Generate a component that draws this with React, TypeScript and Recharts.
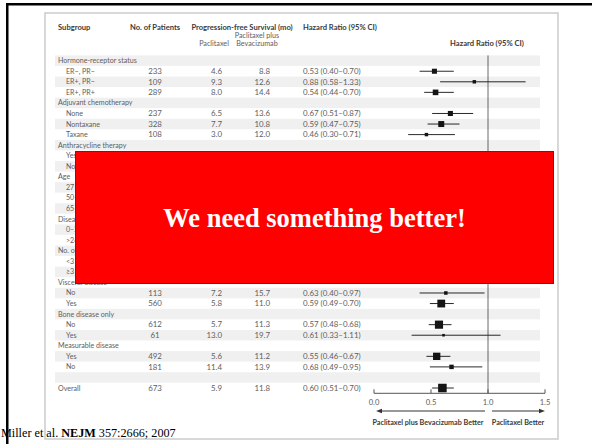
import React from "react";
import { ScatterChart, Scatter, XAxis, YAxis, ErrorBar, ReferenceLine } from "recharts";

// Subgroup rows, top to bottom (row index = position in the table)
const subgroups = [
  "Hormone-receptor status", "ER−, PR−", "ER+, PR−", "ER+, PR+",
  "Adjuvant chemotherapy", "None", "Nontaxane", "Taxane",
  "Anthracycline therapy", "Yes", "No",
  "Age", "27–49 yr", "50–64 yr", "65–85 yr",
  "Disease-free interval", "0–24 mo", ">24 mo",
  "No. of sites", "<3", "≥3",
  "Visceral disease", "No", "Yes",
  "Bone disease only", "No", "Yes",
  "Measurable disease", "Yes", "No",
  "", "Overall",
];
const groupTitleRows = [0, 4, 8, 11, 15, 18, 21, 24, 27, 31];

const patients = [
  null, 233, 109, 289, null, 237, 328, 108, null, null, null, null, null, null, null, null,
  null, null, null, null, null, null, 113, 560, null, 612, 61, null, 492, 181, null, 673,
];
const pfsPaclitaxel = [
  null, 4.6, 9.3, 8.0, null, 6.5, 7.7, 3.0, null, null, null, null, null, null, null, null,
  null, null, null, null, null, null, 7.2, 5.8, null, 5.7, 13.0, null, 5.6, 11.4, null, 5.9,
];
const pfsCombination = [
  null, 8.8, 12.6, 14.4, null, 13.6, 10.8, 12.0, null, null, null, null, null, null, null, null,
  null, null, null, null, null, null, 15.7, 11.0, null, 11.3, 19.7, null, 11.2, 13.9, null, 11.8,
];
const hazardRatio = [
  null, 0.53, 0.88, 0.54, null, 0.67, 0.59, 0.46, null, null, null, null, null, null, null, null,
  null, null, null, null, null, null, 0.63, 0.59, null, 0.57, 0.61, null, 0.55, 0.68, null, 0.60,
];
const ciLower = [
  null, 0.40, 0.58, 0.44, null, 0.51, 0.47, 0.30, null, null, null, null, null, null, null, null,
  null, null, null, null, null, null, 0.40, 0.49, null, 0.48, 0.33, null, 0.46, 0.49, null, 0.51,
];
const ciUpper = [
  null, 0.70, 1.33, 0.70, null, 0.87, 0.75, 0.71, null, null, null, null, null, null, null, null,
  null, null, null, null, null, null, 0.97, 0.70, null, 0.68, 1.11, null, 0.67, 0.95, null, 0.70,
];
const hrTicks = [0, 0.5, 1.0, 1.5];

const rowTicks = subgroups.map((_, i) => i);

const points = subgroups
  .map((_, i) => ({
    row: i,
    hr: hazardRatio[i],
    n: patients[i],
    err: hazardRatio[i] == null ? null : [hazardRatio[i]! - ciLower[i]!, ciUpper[i]! - hazardRatio[i]!],
  }))
  .filter((p) => p.hr != null);

const TABLE_FONT = "Lato, 'Liberation Sans', sans-serif";
const BODY = "#5e5e5e";
const HEAD = "#3a3a3a";
const ROW_H = 10.56;

const fmtCI = (i: number) =>
  `${hazardRatio[i]!.toFixed(2)} (${ciLower[i]!.toFixed(2)}–${ciUpper[i]!.toFixed(2)})`;

function RowTick(props: any) {
  const { y, payload } = props;
  const i = payload.value as number;
  const title = groupTitleRows.includes(i);
  return (
    <g fontFamily={TABLE_FONT} fill={BODY}>
      {i % 2 === 0 && (
        <rect x={55} y={y - ROW_H / 2} width={485} height={ROW_H} fill="rgba(0,0,0,0.06)" />
      )}
      <text x={title ? 58 : 66} y={y} dy="0.35em" fontSize={7.1} fill={BODY}>{subgroups[i]}</text>
      <g fontSize={7.9}>
        {patients[i] != null && (
          <text x={155} y={y} dy="0.35em" textAnchor="middle" fill={BODY}>{patients[i]}</text>
        )}
        {pfsPaclitaxel[i] != null && (
          <text x={222} y={y} dy="0.35em" textAnchor="end" fill={BODY}>{pfsPaclitaxel[i]!.toFixed(1)}</text>
        )}
        {pfsCombination[i] != null && (
          <text x={270} y={y} dy="0.35em" textAnchor="end" fill={BODY}>{pfsCombination[i]!.toFixed(1)}</text>
        )}
        {hazardRatio[i] != null && (
          <text x={303} y={y} dy="0.35em" fill={BODY}>{fmtCI(i)}</text>
        )}
      </g>
    </g>
  );
}

function HrTick(props: any) {
  const { x, y, payload } = props;
  return (
    <g>
      <line x1={x} x2={x} y1={y} y2={y - 4} stroke="#555" strokeWidth={1} />
      <text x={x} y={y + 9} dy="0.35em" textAnchor="middle" fontFamily={TABLE_FONT} fontSize={7.6} fill={BODY}>
        {Number(payload.value).toFixed(1)}
      </text>
    </g>
  );
}

function SquareMarker(props: any) {
  const { cx, cy, payload } = props;
  const s = 0.33 * Math.sqrt(payload.n);
  return <rect x={cx - s / 2} y={cy - s / 2} width={s} height={s} fill="#151515" />;
}

export default function App() {
  return (
    <div style={{ position: "absolute", left: 0, top: 0, width: 592, height: 444, background: "#fff", overflow: "hidden" }}>
      <svg width={592} height={444} style={{ position: "absolute", left: 0, top: 0 }}>
        <rect x={45} y={13} width={513} height={426} fill="#fff" stroke="#cbcbcb" strokeWidth={1.5} />
        <rect x={6} y={3} width={586} height={2.5} fill="#000" />
        <rect x={6} y={3} width={2.5} height={441} fill="#000" />
        <g fontFamily={TABLE_FONT} fontSize={7.6} fill={HEAD} fontWeight="bold">
          <text x={58} y={27} dy="0.35em">Subgroup</text>
          <text x={155} y={27} dy="0.35em" textAnchor="middle">No. of Patients</text>
          <text x={242} y={27} dy="0.35em" textAnchor="middle">Progression-free Survival (mo)</text>
          <text x={303} y={27} dy="0.35em">Hazard Ratio (95% CI)</text>
          <text x={487} y={43.5} dy="0.35em" textAnchor="middle">Hazard Ratio (95% CI)</text>
        </g>
        <g fontFamily={TABLE_FONT} fontSize={7.2} fill={BODY}>
          <text x={214} y={43.5} dy="0.35em" textAnchor="middle">Paclitaxel</text>
          <text x={257} y={35} dy="0.35em" textAnchor="middle">Paclitaxel plus</text>
          <text x={257} y={43.5} dy="0.35em" textAnchor="middle">Bevacizumab</text>
        </g>
        <g stroke="#333" strokeWidth={1} fill="#333">
          <line x1={380} x2={485} y1={411} y2={411} />
          <path d="M376,411 L382,408.8 L382,413.2 Z" stroke="none" />
          <line x1={492} x2={540} y1={411} y2={411} />
          <path d="M545,411 L539,408.8 L539,413.2 Z" stroke="none" />
        </g>
        <g fontFamily={TABLE_FONT} fontSize={7.2} fill={HEAD} fontWeight="bold">
          <text x={428} y={422} dy="0.35em" textAnchor="middle">Paclitaxel plus Bevacizumab Better</text>
          <text x={518} y={422} dy="0.35em" textAnchor="middle">Paclitaxel Better</text>
        </g>
      </svg>

      <div style={{ position: "absolute", left: 0, top: 0 }}>
        <ScatterChart width={592} height={444} margin={{ top: 55.4, right: 47, bottom: 20.7, left: 0 }}>
          <XAxis
            type="number"
            dataKey="hr"
            domain={[0, 1.5]}
            ticks={hrTicks}
            allowDataOverflow
            height={30}
            tickSize={0}
            tickMargin={0}
            tickLine={false}
            axisLine={{ stroke: "#555", strokeWidth: 1 }}
            tick={(p: any) => <HrTick {...p} />}
          />
          <YAxis
            type="number"
            dataKey="row"
            domain={[-0.5, 31.5]}
            ticks={rowTicks}
            interval={0}
            reversed
            width={374}
            tickSize={0}
            tickMargin={0}
            axisLine={false}
            tickLine={false}
            tick={(p: any) => <RowTick {...p} />}
          />
          <ReferenceLine x={1} stroke="#6a6a6a" strokeWidth={1} />
          <Scatter data={points} shape={SquareMarker} isAnimationActive={false}>
            <ErrorBar dataKey="err" direction="x" width={0} stroke="#2a2a2a" strokeWidth={1} isAnimationActive={false} />
          </Scatter>
        </ScatterChart>
      </div>

      <div
        style={{
          position: "absolute",
          left: 75,
          top: 150.5,
          width: 479,
          height: 133.5,
          boxSizing: "border-box",
          background: "#ff0000",
          border: "1px solid #b40000",
          display: "flex",
          alignItems: "center",
          justifyContent: "center",
          color: "#fff",
          fontFamily: "'Liberation Serif', 'Times New Roman', serif",
          fontWeight: "bold",
          fontSize: 26.5,
          paddingTop: 3,
        }}
      >
        We need something better!
      </div>

      <svg width={592} height={444} style={{ position: "absolute", left: 0, top: 0, pointerEvents: "none" }}>
        <text x={1} y={437} fontFamily="'Liberation Serif', 'Times New Roman', serif" fontSize={12.2} fill="#000">
          Miller et al. <tspan fontWeight="bold">NEJM</tspan> 357:2666; 2007
        </text>
      </svg>
    </div>
  );
}
